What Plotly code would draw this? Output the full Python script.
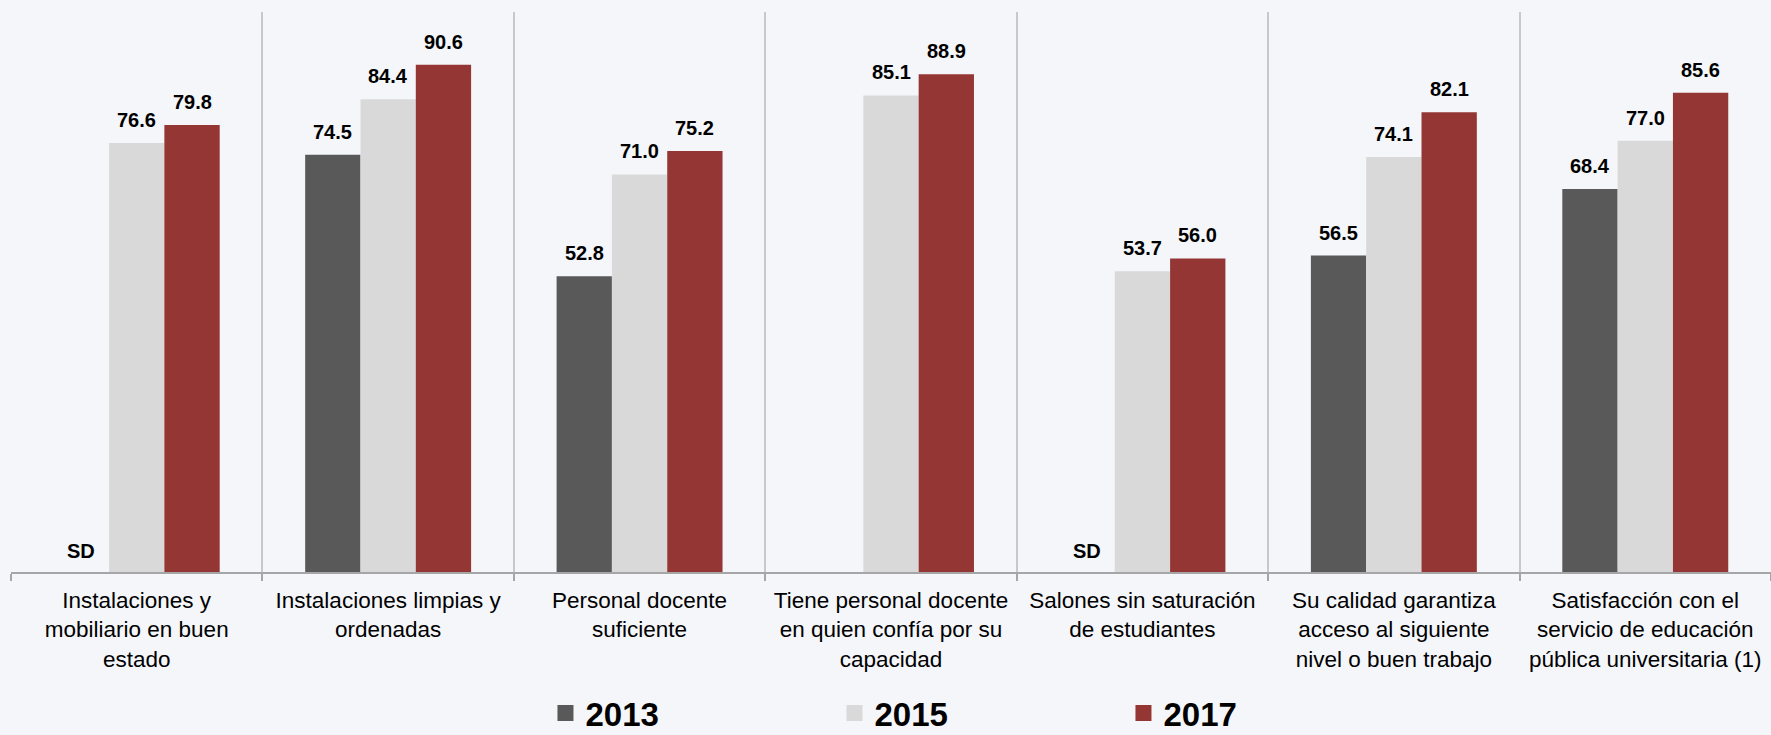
import plotly.graph_objects as go

categories = [
    "Instalaciones y<br>mobiliario en buen<br>estado",
    "Instalaciones limpias y<br>ordenadas",
    "Personal docente<br>suficiente",
    "Tiene personal docente<br>en quien confía por su<br>capacidad",
    "Salones sin saturación<br>de estudiantes",
    "Su calidad garantiza<br>acceso al siguiente<br>nivel o buen trabajo",
    "Satisfacción con el<br>servicio de educación<br>pública universitaria (1)",
]
years = ["2013", "2015", "2017"]
v2013 = [0, 74.5, 52.8, None, 0, 56.5, 68.4]
t2013 = ["SD", "74.5", "52.8", "", "SD", "56.5", "68.4"]
v2015 = [76.6, 84.4, 71.0, 85.1, 53.7, 74.1, 77.0]
v2017 = [79.8, 90.6, 75.2, 88.9, 56.0, 82.1, 85.6]
colors = ["#595959", "#d9d9d9", "#943634"]

FONT = "Liberation Sans, Arial, sans-serif"
fig = go.Figure()
series = [
    (v2013, t2013),
    (v2015, [f"{v:.1f}" for v in v2015]),
    (v2017, [f"{v:.1f}" for v in v2017]),
]
for (vals, txt), name, col in zip(series, years, colors):
    fig.add_trace(go.Bar(
        x=categories, y=vals, name=name,
        marker=dict(color=col, line=dict(width=0)),
        showlegend=False,
    ))
    fig.add_trace(go.Scatter(
        x=[None], y=[None], mode="markers", name=name,
        marker=dict(symbol="square", size=16, color=col),
        showlegend=True,
    ))

W, H = 1771, 735
ML, MR, MT, MB = 11, 0, 12, 163
plot_w = W - ML - MR
cat_w = plot_w / len(categories)
bargap = 0.34
bar_w = cat_w * (1 - bargap) / 3
offsets = [-bar_w, 0, bar_w]

# value labels as annotations above each bar
for (vals, txt), off in zip(series, offsets):
    for cat, v, t in zip(categories, vals, txt):
        if v is None or t == "":
            continue
        fig.add_annotation(
            x=cat, y=v, xref="x", yref="y", text=t, showarrow=False,
            xshift=off, yshift=(8 if t == "SD" else 10), yanchor="bottom",
            font=dict(family=FONT, size=20, color="#000000", weight="bold"),
        )

fig.update_layout(
    width=W, height=H,
    margin=dict(l=ML, r=MR, t=MT, b=MB, autoexpand=False),
    paper_bgcolor="#f4f6fa", plot_bgcolor="#f4f6fa",
    barmode="group", bargap=bargap, bargroupgap=0,
    font=dict(family=FONT, color="#000000"),
    legend=dict(
        orientation="h", xref="container", yref="container",
        x=0.308, xanchor="left", y=0.030, yanchor="middle",
        font=dict(family=FONT, size=33, color="#000000", weight="bold"),
        entrywidth=244, itemsizing="trace", bgcolor="rgba(0,0,0,0)",
    ),
    xaxis=dict(
        tickson="boundaries", ticks="outside", ticklen=7, tickcolor="#a6a6a6", tickwidth=2,
        showgrid=True, gridcolor="#c8c8c8", gridwidth=2,
        showline=True, linecolor="#a6a6a6", linewidth=2,
        tickfont=dict(family=FONT, size=22.5, color="#000000"),
        tickangle=0, ticklabelstandoff=7, automargin=False,
    ),
    yaxis=dict(range=[0, 100], visible=False, showgrid=False, zeroline=False),
)

fig.write_html("out.html")
